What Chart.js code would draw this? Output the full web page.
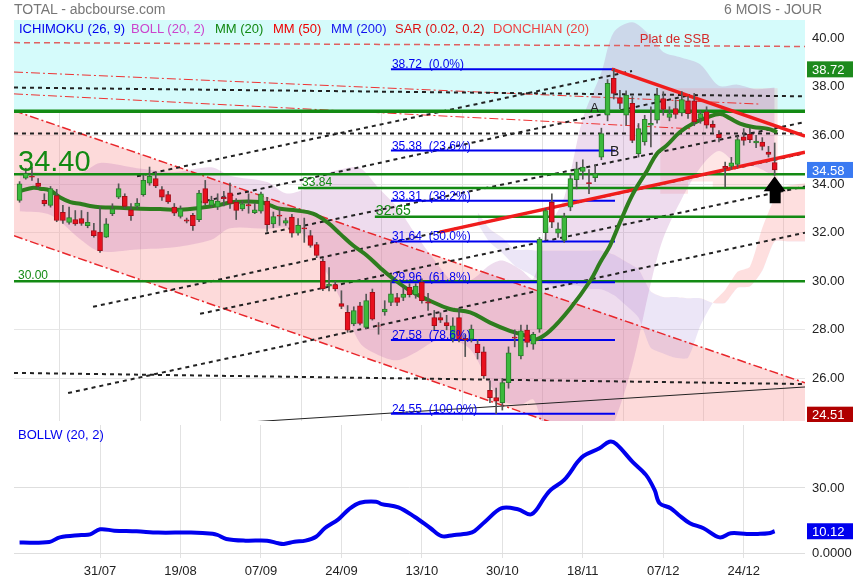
<!DOCTYPE html>
<html><head><meta charset="utf-8">
<script src="https://cdn.jsdelivr.net/npm/chart.js@4.4.1/dist/chart.umd.min.js"></script>
<style>
body{margin:0;background:#fff;}
#wrap{position:relative;width:855px;height:580px;font-family:"Liberation Sans",Arial,sans-serif;overflow:hidden;}
canvas{position:absolute;left:0;}
.t{position:absolute;top:1px;font-size:14px;color:#777;white-space:nowrap;}
.lg{position:absolute;top:21px;font-size:13px;white-space:nowrap;z-index:2;}
</style></head><body>
<div id="wrap">
<canvas id="top" width="855" height="422" style="top:0"></canvas>
<canvas id="bot" width="855" height="158" style="top:422px"></canvas>
<div class="t" style="left:14px">TOTAL - abcbourse.com</div>
<div class="t" style="left:724px">6 MOIS - JOUR</div>
<div class="lg" style="left:19px;color:#0000ee">ICHIMOKU (26, 9)</div>
<div class="lg" style="left:131px;color:#cc44cc">BOLL (20, 2)</div>
<div class="lg" style="left:215px;color:#118811">MM (20)</div>
<div class="lg" style="left:273px;color:#ee0000">MM (50)</div>
<div class="lg" style="left:331px;color:#1111ee">MM (200)</div>
<div class="lg" style="left:395px;color:#dd1111">SAR (0.02, 0.2)</div>
<div class="lg" style="left:493px;color:#ee4444">DONCHIAN (20)</div>
</div>
<script>
// daily candles, index 0 = first session shown
const opens = [33.33,34.24,34.32,34.04,33.33,33.12,33.53,32.84,32.42,32.54,32.58,32.29,32.09,32.02,31.81,32.78,33.46,33.49,32.94,33.08,
  33.56,34.04,34.22,33.77,33.57,33.05,32.67,32.53,32.71,32.53,33.81,33.12,33.05,33.45,33.64,33.26,32.98,33.15,32.82,32.88,
  33.30,32.36,32.72,32.39,32.64,31.98,32.20,31.88,31.51,30.82,29.80,29.86,29.08,28.72,28.24,28.99,28.10,29.54,28.17,28.74,
  29.13,29.33,29.33,29.75,29.45,29.96,29.15,28.51,28.51,28.30,27.62,28.51,27.65,27.62,27.41,27.10,25.51,25.21,25.00,25.83,
  27.70,26.93,27.99,27.41,28.03,32.00,33.26,31.98,31.68,33.05,34.18,34.52,34.06,34.26,35.11,36.83,38.35,37.56,36.83,37.32,
  35.25,35.73,36.42,36.63,37.52,36.74,37.11,36.93,37.42,37.42,36.70,36.97,36.46,36.05,34.73,34.73,34.81,35.94,36.05,35.69,
  35.73,35.32,34.88];
const highs = [34.10,34.65,34.70,34.23,33.60,33.90,33.78,33.12,33.05,32.91,32.91,32.84,32.38,33.05,32.58,33.19,34.01,33.60,33.20,33.40,
  34.36,34.70,34.49,33.90,33.70,33.20,33.10,32.60,32.80,33.74,34.15,33.50,33.60,33.70,34.04,33.40,33.30,33.60,33.20,33.67,
  33.45,32.85,33.00,32.60,32.75,32.58,32.60,32.09,31.60,30.93,30.56,30.00,29.61,29.00,28.95,29.13,29.47,29.68,28.30,29.20,
  30.02,29.50,29.75,29.90,29.90,30.10,29.50,28.80,28.70,28.60,28.50,28.90,27.80,28.20,27.60,27.30,25.90,25.60,26.00,27.30,
  28.00,28.20,28.20,27.90,31.80,33.00,33.60,32.40,32.80,34.40,34.90,35.00,34.60,34.80,36.30,38.30,38.72,37.86,37.84,37.60,
  36.49,36.83,37.18,37.94,37.80,37.18,37.45,37.80,37.60,37.73,37.00,37.18,36.60,36.20,34.90,35.10,35.97,36.28,36.30,36.00,
  35.91,35.55,35.69];
const lows = [33.25,34.20,34.15,33.82,33.10,33.05,32.45,32.38,32.35,32.30,32.30,32.20,31.81,31.19,31.80,32.70,33.40,33.00,32.50,33.00,
  33.50,33.95,33.85,33.33,33.20,32.70,32.60,32.40,32.09,32.45,33.15,33.05,32.95,33.10,33.00,32.54,32.90,32.80,32.78,32.80,
  32.05,32.20,32.30,32.30,31.81,31.90,31.60,31.40,30.97,29.61,29.60,29.60,28.87,27.90,28.17,28.20,28.04,28.40,27.82,28.60,
  29.00,29.00,29.20,29.35,29.30,29.10,28.80,28.00,28.30,28.00,27.50,27.50,26.90,27.50,26.80,26.00,25.00,24.55,24.70,25.60,
  27.30,26.80,27.30,27.20,27.90,31.70,32.20,31.80,31.60,32.90,33.80,34.20,33.60,34.10,35.00,36.60,37.50,37.10,36.42,35.70,
  35.11,35.60,35.53,36.50,36.83,36.60,36.70,36.80,36.70,36.40,36.50,36.30,36.10,35.73,33.87,34.60,34.70,35.60,35.70,35.50,
  35.40,35.11,34.36];
const closes = [34.01,34.44,34.28,33.90,33.19,33.81,32.50,32.50,32.62,32.36,32.38,32.42,31.88,31.26,32.36,32.98,33.81,33.08,32.70,33.22,
  34.15,34.32,33.92,33.46,33.26,32.80,32.98,32.47,32.29,33.63,33.21,33.33,33.30,33.40,33.20,32.91,33.19,33.10,32.94,33.60,
  32.33,32.66,32.68,32.50,31.98,32.30,32.15,31.47,31.06,29.68,29.88,29.68,28.96,27.99,28.79,28.26,29.20,28.44,28.15,28.86,
  29.48,29.13,29.47,29.45,29.80,29.20,29.10,28.17,28.40,28.17,28.17,27.62,27.60,28.03,27.06,26.10,25.21,25.07,25.83,27.06,
  27.66,27.96,27.48,27.82,31.74,32.91,32.43,32.16,32.64,34.22,34.63,34.70,34.02,34.43,36.08,38.14,37.73,37.32,37.66,35.80,
  36.28,36.66,36.50,37.66,37.07,36.90,36.86,37.48,36.90,36.56,36.90,36.42,36.33,35.91,34.64,34.87,35.83,35.80,35.83,35.77,
  35.55,35.22,34.58];

const tickIdx = [13, 26, 39, 52, 65, 78, 91, 104, 117];
const tickLabels = ['31/07', '19/08', '07/09', '24/09', '13/10', '30/10', '18/11', '07/12', '24/12'];
const priceTicks = [26, 28, 30, 32, 34, 36, 38, 40];

// MM (20)
const maIdx = [0.1,2.2,3.3,4.9,6.5,8.2,9.8,11.4,13,16.2,19.5,22.7,25.9,29.2,32.4,34.5,38.9,40.5,42.1,44.8,47.4,49.7,51.8,53.9,56.1,58.2,59.9,63.1,66.3,69.5,72.8,76,79.2,82.5,83.6,85.7,88.9,92.2,93.8,95.4,97,99.1,101.4,103,104.6,106.7,108.8,111.1,113.2,114.8,116.4,118.5,120.8,122.4];
const maVal = [33.71,33.85,33.81,33.74,33.46,33.26,33.19,33.10,33.05,33.02,32.98,32.97,32.94,33.02,33.15,33.26,33.26,33.12,32.98,32.91,32.78,32.43,31.95,31.47,31.06,30.57,30.2,29.61,29.2,28.86,28.72,28.3,27.96,27.71,27.62,27.96,28.86,30.02,30.77,31.47,32.42,33.6,34.56,35.26,35.6,36.14,36.49,36.74,36.88,36.7,36.49,36.35,36.28,36.14];

// BOLL (20, 2)
const bbIdx = [0,5,10,13,19,25,31,34,40,43,46,49,52,55,58,61,64,67,70,73,76,78,81,83,85,88,91,94,96,99,102,104,107,110,113,116,119,122];
const bbUp = [34.54,34.47,34.47,34.87,34.65,34.5,34.69,34.34,34.08,33.62,33.8,34.37,34.61,34.66,33.84,33.05,31.93,30.88,30.0,30.06,30.67,30.85,30.47,30.1,31.95,33.46,36.7,38.6,40.25,40.66,40.08,39.43,39.2,38.92,38.04,38.09,37.9,37.97];
const bbLow = [32.88,32.73,31.69,31.23,31.31,31.4,31.71,32.18,32.16,32.2,31.9,30.63,29.19,27.46,26.96,26.75,27.07,27.52,27.6,27.14,25.73,25.07,24.93,25.13,23.85,23.74,23.3,23.4,24.15,26.54,29.93,31.77,33.4,34.68,35.36,34.81,34.7,34.31];

// DONCHIAN (20), last weeks
const dcUpIdx = [103.5, 116, 122.5];
const dcUp = [38.72, 37.94, 37.94];
const dcLowIdx = [103.5, 108, 112, 114, 122.5];
const dcLow = [31.6, 33.6, 34.1, 33.87, 33.87];

// ICHIMOKU cloud (senkou A / B)
const cloudIdx = [74,76,78,80,82,84,86,88,90,92,94,96,98,100,102,104,106,108,110,112,114,116,118,120,122,124,126.9];
const ssa = [32.38,31.59,31.16,30.64,30.36,30.06,29.83,29.83,29.83,29.69,29.67,29.43,29.0,28.51,27.25,27.03,26.85,26.85,28.18,29.11,29.64,30.39,30.6,32.19,33.4,33.9,34.03];
const ssb = [32.84,32.15,31.79,31.3,31.3,31.26,31.26,31.26,31.26,31.26,31.26,31.1,30.8,30.48,29.58,29.35,29.35,29.3,29.3,29.11,29.11,29.73,29.78,30.43,31.64,31.64,31.64];

// BOLLW (20, 2)
const bwIdx = [0,4.8,6.5,10,11.4,13,15.3,18.9,22.4,27.7,31.2,32,33.4,36.5,40,41.8,42.7,44.4,46.2,47.9,49.3,51.5,53.2,55,57.6,58.5,61.2,63.8,66.4,68.2,70,72.6,73.5,75.2,77.9,80.5,82.7,84.9,85.8,88,90.2,91.1,93.7,95.3,96.4,99,101.2,102.6,103.4,105.2,106.5,108.3,110.5,113.1,114.9,117.5,119.3,121,122];
const bwVal = [4.9,5.2,7.3,8.4,8.7,11.0,10.4,10.1,9.5,9.5,9.0,8.4,6.6,5.8,5.8,4.6,4.3,5.3,5.8,7.6,11.5,15.6,20.2,23.2,23.7,22.6,21.1,16.8,11.5,7.9,8.3,9.2,10.2,14.5,20.7,20.2,17.9,26.0,29.1,33.7,42.1,44.7,48.2,51.2,50.2,42.1,36.0,29.1,23.0,20.7,17.6,13.8,11.5,7.3,9.2,8.9,8.9,9.2,10.12];

// Fibonacci retracement 38.72 -> 24.55
const fibLevels = [38.72, 35.38, 33.31, 31.64, 29.96, 27.58, 24.55];
const fibPct = ['0.0%', '23.6%', '38.2%', '50.0%', '61.8%', '78.6%', '100.0%'];
const fibSpan = [60, 96.2];

// horizontal supports / resistances
const greenLevels = [37.0, 34.40, 33.84, 32.65, 30.00];
const greenFrom = [-0.9, -0.9, 45, 57.4, -0.9];
const greenLabel = [null, 'big', 'small', 'mid', 'small'];

// drawn lines, [index, price] pairs
const redTriUpper = [[95.7, 38.73], [126.9, 35.97]];
const redTriLower = [[67.9, 32.02], [126.9, 35.31]];
const chanUpper = [[-0.9, 37.02], [126.9, 25.82]];
const chanLower = [[-0.9, 31.87], [126.9, 20.57]];
const redDashTop = [[-0.9, 39.82], [126.9, 39.66]];
const redDotA = [[-0.9, 38.61], [119.6, 37.29]];
const redDotB = [[-0.9, 37.71], [108.8, 36.27]];
const blackFlat1 = [[-0.9, 37.97], [126.9, 37.61]];
const blackFlat2 = [[-0.9, 36.08], [126.9, 36.08]];
const blackLow = [[-0.9, 26.23], [126.9, 25.77]];
const blackThin = [[37.2, 24.21], [126.9, 25.65]];
const blackRise = [
  [[18.98, 34.32], [98.95, 38.65]],
  [[28.84, 33.24], [108.32, 37.66]],
  [[39.66, 31.96], [126.9, 36.55]],
  [[11.87, 28.95], [126.9, 35.27]],
  [[29.16, 28.66], [126.9, 33.90]],
  [[7.84, 25.40], [126.9, 32.00]]
];

const X_MIN = -0.9, X_MAX = 126.9, Y_MIN = 24.25, Y_MAX = 40.75;
const FONT = '"Liberation Sans", Arial, sans-serif';

const pts = arr => arr.map(([x, y]) => ({x, y}));
const zip = (xs, ys) => xs.map((x, k) => ({x, y: ys[k]}));
const line = (data, color, width, dash, order) => ({
  type: 'line', data, borderColor: color, borderWidth: width, borderDash: dash || [],
  pointRadius: 0, fill: false, order: order || 5, clip: 0, tension: 0
});
const edge = (data, extra) => Object.assign({type: 'line', data, borderWidth: 0, pointRadius: 0, fill: false}, extra);

const idx = closes.map((c, i) => i);
const up = idx.map(i => closes[i] >= opens[i]);
const DASHDOT = [9, 3, 2, 3];

const datasets = [
  // 0 candles body (on top)
  {type: 'bar', data: idx.map(i => ({x: i, y: [opens[i], closes[i]]})), barThickness: 5, grouped: false,
   backgroundColor: up.map(u => u ? '#3cb93c' : '#e8101e'), borderColor: up.map(u => u ? '#2a7d2a' : '#a50d18'),
   borderWidth: 1, borderSkipped: false, order: 1},
  // 1 wicks
  {type: 'bar', data: idx.map(i => ({x: i, y: [lows[i], highs[i]]})), barThickness: 1, grouped: false,
   backgroundColor: '#555', order: 2},
  // 2 MM20
  {type: 'line', data: zip(maIdx, maVal), borderColor: '#2e7d1e', borderWidth: 4,
   pointRadius: 0, tension: 0.4, fill: false, order: 3, clip: 0},
  // 3-4 bollinger band
  edge(zip(bbIdx, bbUp), {tension: 0.3, fill: '+1', backgroundColor: 'rgba(170,80,170,0.2)', order: 40}),
  edge(zip(bbIdx, bbLow), {tension: 0.3, order: 41}),
  // 5-6 donchian
  edge(zip(dcUpIdx, dcUp), {stepped: 'after', fill: '+1', backgroundColor: 'rgba(250,140,140,0.22)', order: 44}),
  edge(zip(dcLowIdx, dcLow), {stepped: 'after', order: 45}),
  // 7-8 ichimoku cloud
  edge(zip(cloudIdx, ssa), {tension: 0.2, fill: {target: '+1', above: 'rgba(250,140,140,0.28)', below: 'rgba(160,130,215,0.2)'}, order: 46}),
  edge(zip(cloudIdx, ssb), {tension: 0.2, order: 47}),
  // 9-10 descending channel
  edge(pts(chanUpper), {fill: '+1', backgroundColor: 'rgba(250,150,150,0.35)', order: 50}),
  edge(pts(chanLower), {order: 51}),
  // 11 cyan zone above 37
  edge([{x: X_MIN, y: Y_MAX}, {x: X_MAX, y: Y_MAX}], {fill: {value: greenLevels[0]}, backgroundColor: '#d5fbfb', order: 60}),
  line(pts(chanUpper), '#e8262b', 1.5, DASHDOT, 10),
  line(pts(chanLower), '#e8262b', 1.5, DASHDOT, 10),
  line(pts(redDotA), '#ee3333', 1, DASHDOT, 10),
  line(pts(redDotB), '#ee3333', 1, DASHDOT, 10),
  line(pts(redDashTop), '#e06060', 1.5, [6, 4], 10),
  line(pts(blackFlat1), '#222', 2, [4, 4], 9),
  line(pts(blackFlat2), '#222', 2, [4, 4], 9),
  line(pts(blackLow), '#222', 2, [4, 4], 9),
  line(pts(blackThin), '#222', 1, [], 9),
  ...blackRise.map(l => line(pts(l), '#222', 2, [4, 4], 9)),
  line(pts(redTriUpper), '#f01c1c', 3.5, [], 4),
  line(pts(redTriLower), '#f01c1c', 3.5, [], 4),
  ...greenLevels.map((v, k) => line([{x: greenFrom[k], y: v}, {x: X_MAX, y: v}], '#138a13', k === 0 ? 3.5 : 2.5, [], 8)),
  ...fibLevels.map(v => line([{x: fibSpan[0], y: v}, {x: fibSpan[1], y: v}], '#0000ee', 2, [], 7))
];

const xGrid = {
  type: 'linear', min: X_MIN, max: X_MAX, offset: false,
  afterBuildTicks: s => { s.ticks = tickIdx.map(v => ({value: v})); },
  grid: {color: '#e2e2e2', drawTicks: false}, border: {display: false}
};
const fitRight = s => { s.width = 50; s.paddingTop = 0; s.paddingBottom = 0; };

const annot = {
  id: 'annot',
  afterDatasetsDraw(chart) {
    const {ctx, scales: {x, y}} = chart;
    ctx.save();
    ctx.textBaseline = 'alphabetic';
    ctx.fillStyle = '#0000ee';
    ctx.font = '12px ' + FONT;
    fibLevels.forEach((v, k) => {
      ctx.fillText(v.toFixed(2) + '  (' + fibPct[k] + ')', x.getPixelForValue(fibSpan[0]) + 1, y.getPixelForValue(v) - 1);
    });
    greenLevels.forEach((v, k) => {
      const kind = greenLabel[k];
      if (!kind) return;
      ctx.fillStyle = '#138a13';
      ctx.font = (kind === 'big' ? '29px ' : kind === 'mid' ? '14px ' : '12px ') + FONT;
      ctx.fillText(v.toFixed(2), x.getPixelForValue(greenFrom[k]) + (kind === 'mid' ? 1 : 4), y.getPixelForValue(v) - (kind === 'big' ? 3 : 2));
    });
    ctx.fillStyle = '#222';
    ctx.font = '14px ' + FONT;
    ctx.fillText('B', x.getPixelForValue(95.4), y.getPixelForValue(fibLevels[1]) + 5);
    ctx.font = '13px ' + FONT;
    ctx.fillText('A', x.getPixelForValue(92.2), y.getPixelForValue(greenLevels[0]) + 1);
    ctx.fillStyle = '#d42a2a';
    ctx.font = '13px ' + FONT;
    ctx.fillText('Plat de SSB', x.getPixelForValue(100.2), y.getPixelForValue(redDashTop[1][1]) - 3);
    // arrow under the last candle
    const last = closes.length - 1;
    const ax = x.getPixelForValue(last), ay = y.getPixelForValue(lows[last]) + 1;
    ctx.fillStyle = '#000';
    ctx.beginPath();
    ctx.moveTo(ax, ay); ctx.lineTo(ax + 11, ay + 15); ctx.lineTo(ax + 6, ay + 15); ctx.lineTo(ax + 6, ay + 27);
    ctx.lineTo(ax - 5, ay + 27); ctx.lineTo(ax - 5, ay + 15); ctx.lineTo(ax - 11, ay + 15); ctx.closePath();
    ctx.fill();
    ctx.restore();
  },
  afterDraw(chart) {
    const {ctx, scales: {y}, chartArea: a} = chart;
    const boxes = [[fibLevels[0], '#1d8a1d'], [closes[closes.length - 1], '#3a7af2'], [24.51, '#b00000']];
    ctx.save();
    ctx.font = '13px ' + FONT;
    ctx.textBaseline = 'middle';
    boxes.forEach(([v, c]) => {
      const py = y.getPixelForValue(v);
      ctx.fillStyle = c;
      ctx.fillRect(a.right + 2, py - 8, 46, 16);
      ctx.fillStyle = '#fff';
      ctx.fillText(v.toFixed(2), a.right + 7, py + 1);
    });
    ctx.restore();
  }
};

new Chart(document.getElementById('top'), {
  type: 'line',
  data: {datasets},
  options: {
    responsive: false, animation: false, events: [],
    layout: {padding: {left: 14, top: 20, right: 0, bottom: 1}},
    plugins: {legend: {display: false}, tooltip: {enabled: false}},
    scales: {
      x: {...xGrid, ticks: {display: false}, afterFit: s => { s.height = 0; }},
      y: {
        position: 'right', min: Y_MIN, max: Y_MAX,
        afterBuildTicks: s => { s.ticks = priceTicks.map(v => ({value: v})); },
        afterFit: fitRight,
        ticks: {padding: 7, color: '#222', font: {size: 13, family: FONT}, callback: v => v.toFixed(2)},
        grid: {color: '#e6e6e6', drawTicks: false}, border: {display: false}
      }
    }
  },
  plugins: [annot]
});

const lowBox = {
  id: 'lowBox',
  afterDraw(chart) {
    const {ctx, scales: {y}, chartArea: a} = chart;
    const v = bwVal[bwVal.length - 1];
    const py = y.getPixelForValue(v);
    ctx.save();
    ctx.fillStyle = '#0000ee';
    ctx.fillRect(a.right + 2, py - 8, 46, 16);
    ctx.fillStyle = '#fff';
    ctx.font = '13px ' + FONT;
    ctx.textBaseline = 'middle';
    ctx.fillText(v.toFixed(2), a.right + 7, py + 1);
    ctx.fillStyle = '#0000ee';
    ctx.textBaseline = 'alphabetic';
    ctx.fillText('BOLLW (20, 2)', a.left + 4, a.top + 14);
    ctx.restore();
  }
};

new Chart(document.getElementById('bot'), {
  type: 'line',
  data: {datasets: [{data: zip(bwIdx, bwVal), borderColor: '#0000ee', borderWidth: 4,
    pointRadius: 0, tension: 0.35, fill: false, clip: 0}]},
  options: {
    responsive: false, animation: false, events: [],
    layout: {padding: {left: 14, top: 3, right: 0, bottom: 0}},
    plugins: {legend: {display: false}, tooltip: {enabled: false}},
    scales: {
      x: {...xGrid, afterFit: s => { s.height = 22; },
        ticks: {padding: 6, color: '#222', font: {size: 13, family: FONT}, maxRotation: 0,
        callback: v => tickLabels[tickIdx.indexOf(v)]}},
      y: {
        position: 'right', min: -2.16, max: 58.9,
        afterBuildTicks: s => { s.ticks = [0, 30].map(v => ({value: v})); },
        afterFit: fitRight,
        ticks: {padding: 7, color: '#222', font: {size: 13, family: FONT}, callback: v => v === 0 ? '0.0000' : v.toFixed(2)},
        grid: {color: '#dedede', drawTicks: false}, border: {display: false}
      }
    }
  },
  plugins: [lowBox]
});
</script>
</body></html>
